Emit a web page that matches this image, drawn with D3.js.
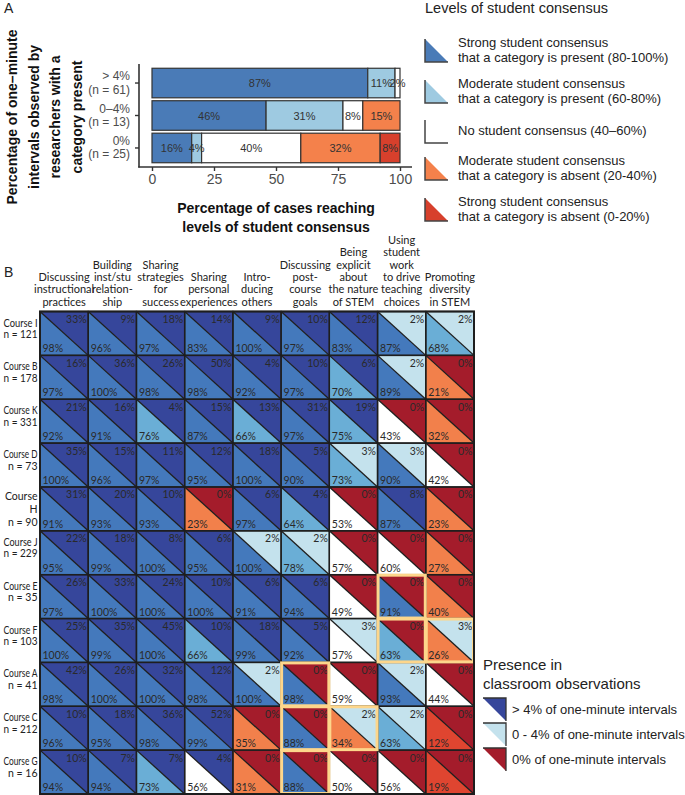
<!DOCTYPE html>
<html>
<head>
<meta charset="utf-8">
<script src="https://cdn.jsdelivr.net/npm/d3@7"></script>
<style>
  body { margin: 0; background: #fff; }
  svg { display: block; }
</style>
</head>
<body>
<svg id="chart" width="685" height="795"></svg>
<script>
// ---- panel A: how often students agree, grouped by observed exposure
const exposureGroups = ["> 4%", "0–4%", "0%"];
const exposureN = [61, 13, 25];
const consensusShares = [
  [87, 11, 2, 0, 0],
  [46, 31, 8, 15, 0],
  [16, 4, 40, 32, 8]
];
const xTicks = [0, 25, 50, 75, 100];
const consensusLevels = [
  ["Strong student consensus", "that a category is present (80-100%)"],
  ["Moderate student consensus", "that a category is present (60-80%)"],
  ["No student consensus (40–60%)"],
  ["Moderate student consensus", "that a category is absent (20-40%)"],
  ["Strong student consensus", "that a category is absent (0-20%)"]
];
const barColors = ["#4a7bb7", "#9ecae1", "#ffffff", "#f4814b", "#d7402c"];

// ---- panel B: course x category grid
const categories = [
  ["Discussing", "instructional", "practices"],
  ["Building", "inst/stu", "relation-", "ship"],
  ["Sharing", "strategies", "for", "success"],
  ["Sharing", "personal", "experiences"],
  ["Intro-", "ducing", "others"],
  ["Discussing", "post-", "course", "goals"],
  ["Being", "explicit", "about", "the nature", "of STEM"],
  ["Using", "student", "work", "to drive", "teaching", "choices"],
  ["Promoting", "diversity", "in STEM"]
];
const courseLabels = [["Course I"], ["Course B"], ["Course K"], ["Course D"], ["Course", "H"],
  ["Course J"], ["Course E"], ["Course F"], ["Course A"], ["Course C"], ["Course G"]];
const courseN = [121, 178, 331, 73, 90, 229, 35, 103, 41, 212, 16];
// % of one-minute intervals with the category present (researcher observation)
const observedPct = [
  [33, 9, 18, 14, 9, 10, 12, 2, 2],
  [16, 36, 26, 50, 4, 10, 6, 2, 0],
  [21, 16, 4, 15, 13, 31, 19, 0, 0],
  [35, 15, 11, 12, 18, 5, 3, 3, 0],
  [31, 20, 10, 0, 6, 4, 0, 8, 0],
  [22, 18, 8, 6, 2, 2, 0, 0, 0],
  [26, 33, 24, 10, 6, 6, 0, 0, 0],
  [25, 35, 45, 10, 18, 5, 3, 0, 3],
  [42, 26, 32, 12, 2, 0, 0, 2, 0],
  [10, 18, 36, 52, 0, 0, 2, 2, 0],
  [10, 7, 7, 4, 0, 0, 0, 0, 0]
];
// % of students reporting the category present
const studentPct = [
  [98, 96, 97, 83, 100, 97, 83, 87, 68],
  [97, 100, 98, 98, 92, 97, 70, 89, 21],
  [92, 91, 76, 87, 66, 97, 75, 43, 32],
  [100, 96, 97, 95, 100, 90, 73, 90, 42],
  [91, 93, 93, 23, 97, 64, 53, 87, 23],
  [95, 99, 100, 95, 100, 78, 57, 60, 27],
  [97, 100, 100, 100, 91, 94, 49, 91, 40],
  [100, 99, 100, 66, 99, 92, 57, 63, 26],
  [98, 100, 100, 98, 100, 98, 59, 93, 44],
  [96, 95, 98, 99, 35, 88, 34, 63, 12],
  [94, 94, 73, 56, 31, 88, 50, 56, 19]
];
// [row, column] cells outlined in yellow
const flaggedCells = [[6, 7], [7, 7], [7, 8], [8, 5], [9, 5], [9, 6], [10, 5]];
const presenceLevels = ["> 4% of one-minute intervals", "0 - 4% of one-minute intervals", "0% of one-minute intervals"];
const presenceColors = ["#36469b", "#c4e2ed", "#a41c2b"];
const cellConsensusColors = ["#4479bc", "#6aaed6", "#ffffff", "#f2804b", "#df4530"];

const HELV = "'Liberation Sans', Arial, sans-serif";
const MYR = "Lato, 'Liberation Sans', sans-serif";

const svg = d3.select("#chart");

// ================= panel A =================
svg.append("text").attr("x", 4).attr("y", 13).attr("font-family", HELV)
  .attr("font-size", 14).attr("fill", "#222").text("A");

const x = d3.scaleLinear().domain([0, 100]).range([152, 400]);
const y = d3.scaleBand().domain(exposureGroups).range([66.8, 164.2])
  .paddingInner(0.09).paddingOuter(0.045);

const stacked = d3.stack().keys(d3.range(5))(consensusShares);
const barG = svg.append("g");
stacked.forEach((layer, k) => {
  layer.forEach((seg, i) => {
    if (seg[1] - seg[0] <= 0) return;
    const g = exposureGroups[i];
    barG.append("rect")
      .attr("x", x(seg[0])).attr("y", y(g))
      .attr("width", x(seg[1]) - x(seg[0])).attr("height", y.bandwidth())
      .attr("fill", barColors[k]).attr("stroke", "#333").attr("stroke-width", 1.2);
  });
});
stacked.forEach((layer, k) => {
  layer.forEach((seg, i) => {
    const v = seg[1] - seg[0];
    if (v <= 0) return;
    barG.append("text")
      .attr("x", x((seg[0] + seg[1]) / 2)).attr("y", y(exposureGroups[i]) + y.bandwidth() / 2 + 4)
      .attr("text-anchor", "middle").attr("font-family", HELV).attr("font-size", 11)
      .attr("fill", "#333").text(v + "%");
  });
});

// axes, ggplot style
const axisCol = "#333";
svg.append("line").attr("x1", 139).attr("x2", 139).attr("y1", 64).attr("y2", 167.5)
  .attr("stroke", axisCol).attr("stroke-width", 1.6);
svg.append("line").attr("x1", 138.2).attr("x2", 412).attr("y1", 167).attr("y2", 167)
  .attr("stroke", axisCol).attr("stroke-width", 1.6);

const xAxis = svg.append("g").attr("transform", "translate(0,167)")
  .call(d3.axisBottom(x).tickValues(xTicks).tickSize(4).tickPadding(3));
xAxis.select(".domain").remove();
xAxis.selectAll("line").attr("stroke", axisCol).attr("stroke-width", 1.4);
xAxis.selectAll("text").attr("font-family", HELV).attr("font-size", 14).attr("fill", "#4d4d4d");

const yAxis = svg.append("g").attr("transform", "translate(139,0)")
  .call(d3.axisLeft(y).tickSize(4).tickFormat(""));
yAxis.select(".domain").remove();
yAxis.selectAll("line").attr("stroke", axisCol).attr("stroke-width", 1.4);
exposureGroups.forEach((g, i) => {
  const t = svg.append("text").attr("text-anchor", "end").attr("font-family", HELV)
    .attr("font-size", 12).attr("fill", "#4d4d4d");
  const cy = y(g) + y.bandwidth() / 2;
  t.append("tspan").attr("x", 130).attr("y", cy - 3).text(g);
  t.append("tspan").attr("x", 130).attr("y", cy + 10.5).text("(n = " + exposureN[i] + ")");
});

// axis titles
const yTitle = ["Percentage of one–minute", "intervals observed by", "researchers with a", "category present"];
yTitle.forEach((line, i) => {
  svg.append("text").attr("transform", `translate(${17 + i * 21.5},117) rotate(-90)`)
    .attr("text-anchor", "middle").attr("font-family", HELV).attr("font-weight", "bold")
    .attr("font-size", 14).attr("fill", "#111").text(line);
});
["Percentage of cases reaching", "levels of student consensus"].forEach((line, i) => {
  svg.append("text").attr("x", 276).attr("y", 213 + i * 19).attr("text-anchor", "middle")
    .attr("font-family", HELV).attr("font-weight", "bold").attr("font-size", 14)
    .attr("fill", "#111").text(line);
});

// legend A
const legA = svg.append("g");
legA.append("text").attr("x", 425).attr("y", 13).attr("font-family", HELV)
  .attr("font-size", 14.5).attr("fill", "#222").text("Levels of student consensus");
const legAy = [39, 80, 120, 157, 198];
consensusLevels.forEach((lines, k) => {
  const ty = legAy[k], s = 23;
  legA.append("path").attr("d", `M425,${ty}L425,${ty + s}L${425 + s},${ty + s}Z`)
    .attr("fill", barColors[k]);
  legA.append("path").attr("d", `M425,${ty}L425,${ty + s}L${425 + s},${ty + s}`)
    .attr("fill", "none").attr("stroke", "#444").attr("stroke-width", 1.5);
  const t = legA.append("text").attr("font-family", HELV).attr("font-size", 13).attr("fill", "#222");
  if (lines.length === 2) {
    t.append("tspan").attr("x", 458).attr("y", ty + 7.5).text(lines[0]);
    t.append("tspan").attr("x", 458).attr("y", ty + 22.5).text(lines[1]);
  } else {
    t.append("tspan").attr("x", 458).attr("y", ty + 14.5).text(lines[0]);
  }
});

// ================= panel B =================
svg.append("text").attr("x", 4).attr("y", 277).attr("font-family", HELV)
  .attr("font-size", 14).attr("fill", "#222").text("B");

const gx = d3.scaleBand().domain(d3.range(categories.length)).range([40, 474]);
const gy = d3.scaleBand().domain(d3.range(courseLabels.length)).range([311.5, 794]);
const cw = gx.bandwidth(), ch = gy.bandwidth();

function consensusIndex(v) {
  if (v > 80) return 0;
  if (v > 60) return 1;
  if (v > 40) return 2;
  if (v >= 20) return 3;
  return 4;
}
function presenceIndex(v) {
  if (v >= 4) return 0;
  if (v > 0) return 1;
  return 2;
}

// column headers
categories.forEach((lines, j) => {
  const cx = gx(j) + cw / 2;
  const t = svg.append("text").attr("text-anchor", "middle").attr("font-family", MYR)
    .attr("font-size", 11).attr("fill", "#222");
  lines.forEach((l, k) => {
    t.append("tspan").attr("x", cx).attr("y", 305.5 - (lines.length - 1 - k) * 12.3).text(l);
  });
});

// row labels (squeezed to fit the 36px margin, like the narrow original face)
courseLabels.forEach((lines, i) => {
  const top = gy(i);
  const all = lines.concat(["n = " + courseN[i]]);
  const three = all.length === 3;
  all.forEach((l, k) => {
    const t = svg.append("text").attr("text-anchor", "end").attr("font-family", MYR)
      .attr("font-size", 10.5).attr("fill", "#222")
      .attr("x", 37.5).attr("y", top + (three ? 13.5 + k * 13 : 15 + k * 11.5)).text(l);
    const w = t.node().getComputedTextLength();
    if (w > 34) t.attr("textLength", 34).attr("lengthAdjust", "spacingAndGlyphs");
  });
});

const cells = svg.append("g");
observedPct.forEach((row, i) => {
  row.forEach((obs, j) => {
    const stu = studentPct[i][j];
    const g = cells.append("g").attr("transform", `translate(${gx(j)},${gy(i)})`);
    g.append("path").attr("d", `M0,0L0,${ch}L${cw},${ch}Z`)
      .attr("fill", cellConsensusColors[consensusIndex(stu)]);
    g.append("path").attr("d", `M0,0L${cw},0L${cw},${ch}Z`)
      .attr("fill", presenceColors[presenceIndex(obs)]);
  });
});

// grid lines + diagonals
const lines = svg.append("g").attr("stroke", "#1e1e1e");
observedPct.forEach((row, i) => {
  row.forEach((obs, j) => {
    lines.append("rect").attr("x", gx(j)).attr("y", gy(i)).attr("width", cw).attr("height", ch)
      .attr("fill", "none").attr("stroke-width", 1.4);
    lines.append("line").attr("x1", gx(j)).attr("y1", gy(i)).attr("x2", gx(j) + cw).attr("y2", gy(i) + ch)
      .attr("stroke-width", 1.3);
  });
});

// cell labels
const labs = svg.append("g").attr("font-family", MYR).attr("font-size", 10.5).attr("fill", "#2a2a2a");
observedPct.forEach((row, i) => {
  row.forEach((obs, j) => {
    labs.append("text").attr("x", gx(j) + cw - 1.5).attr("y", gy(i) + 11.5)
      .attr("text-anchor", "end").text(obs + "%");
    labs.append("text").attr("x", gx(j) + 2.5).attr("y", gy(i) + ch - 3)
      .text(studentPct[i][j] + "%");
  });
});

// flagged cells
flaggedCells.forEach(([i, j]) => {
  svg.append("rect").attr("x", gx(j) + 0.5).attr("y", gy(i) + 0.5)
    .attr("width", cw - 1).attr("height", ch - 1)
    .attr("fill", "none").attr("stroke", "#fdd68b").attr("stroke-width", 3);
});

// outer border
svg.append("rect").attr("x", 40).attr("y", 311.5).attr("width", 434).attr("height", 482.5)
  .attr("fill", "none").attr("stroke", "#1e1e1e").attr("stroke-width", 2);

// legend B
const legB = svg.append("g").attr("font-family", HELV).attr("fill", "#222");
legB.append("text").attr("x", 483).attr("y", 670).attr("font-size", 15).text("Presence in");
legB.append("text").attr("x", 483).attr("y", 689).attr("font-size", 15).text("classroom observations");
const legBy = [698, 723, 748];
presenceLevels.forEach((lab, k) => {
  const ty = legBy[k], s = 23;
  legB.append("path").attr("d", `M483,${ty}L${483 + s},${ty}L${483 + s},${ty + s}Z`)
    .attr("fill", presenceColors[k]);
  legB.append("path").attr("d", `M483,${ty}L${483 + s},${ty}L${483 + s},${ty + s}`)
    .attr("fill", "none").attr("stroke", "#333").attr("stroke-width", 1.3);
  legB.append("text").attr("x", 512).attr("y", ty + 15.5).attr("font-size", 13).text(lab);
});
</script>
</body>
</html>
